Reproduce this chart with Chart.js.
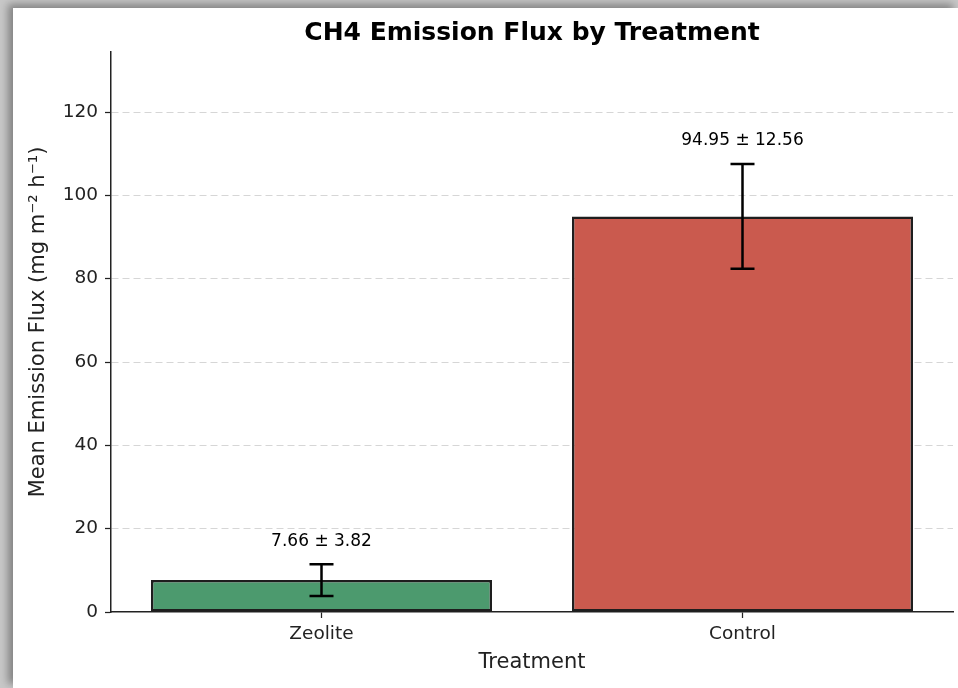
<!DOCTYPE html>
<html>
<head>
<meta charset="utf-8">
<script src="https://cdn.jsdelivr.net/npm/chart.js@4.4.0/dist/chart.umd.min.js"></script>
<style>
  html, body { margin: 0; padding: 0; }
  body { width: 958px; height: 688px; background: #c8c8c8; overflow: hidden; position: relative; }
  #card { position: absolute; left: 13px; top: 8px; width: 945px; height: 680px; background: #fff;
          box-shadow: -5px -4px 8px rgba(0,0,0,0.35); }
  canvas { display: block; }
</style>
</head>
<body>
<div id="card"><canvas id="grafico" width="945" height="680"></canvas></div>
<script>
const categorias = ["Zeolite", "Control"]
const medias = [7.66, 94.95]
const erros = [3.82, 12.56]
const cores = ["#4c9a6e", "#ca5a4e"]
const titulo = "CH4 Emission Flux by Treatment"

const FONTE = "'DejaVu Sans', sans-serif"

// barras de erro, rótulos e título
const errorBars = {
    id: "errorBars",
    afterDatasetsDraw(chart) {
        const ctx = chart.ctx
        const y = chart.scales.y
        const meta = chart.getDatasetMeta(0)
        ctx.save()
        meta.data.forEach((bar, i) => {
            const x = bar.x
            const topo = y.getPixelForValue(medias[i] + erros[i])
            const base = y.getPixelForValue(medias[i] - erros[i])
            ctx.strokeStyle = "#000"
            ctx.lineWidth = 2.5
            ctx.beginPath()
            ctx.moveTo(x, topo); ctx.lineTo(x, base)
            ctx.moveTo(x - 12, topo); ctx.lineTo(x + 12, topo)
            ctx.moveTo(x - 12, base); ctx.lineTo(x + 12, base)
            ctx.stroke()
            ctx.fillStyle = "#000"
            ctx.font = "17px " + FONTE
            ctx.textAlign = "center"
            ctx.textBaseline = "middle"
            ctx.fillText(medias[i].toFixed(2) + " ± " + erros[i].toFixed(2), x, topo - 23)
        })
        const area = chart.chartArea
        ctx.font = "bold 25px " + FONTE
        ctx.fillText(titulo, (area.left + area.right) / 2, 25)
        ctx.restore()
    }
}

new Chart(document.getElementById("grafico"), {
    type: "bar",
    data: {
        labels: categorias,
        datasets: [{
            data: medias,
            backgroundColor: cores,
            borderColor: "#1e1e1e",
            borderWidth: 2.5,
            borderSkipped: false,
            barPercentage: 0.81,
            categoryPercentage: 1.0
        }]
    },
    options: {
        responsive: false,
        animation: false,
        layout: { padding: { left: 0, right: 5, top: 44, bottom: 0 } },
        plugins: {
            legend: { display: false },
            tooltip: { enabled: false },
            title: { display: false }
        },
        scales: {
            x: {
                offset: true,
                grid: { offset: false, drawOnChartArea: false, drawTicks: true, tickLength: 6, tickColor: "#222", tickWidth: 1.25 },
                border: { display: true, color: "#222", width: 1.5 },
                ticks: { color: "#222", font: { family: FONTE, size: 18.5 }, padding: 5 },
                title: { display: true, text: "Treatment", color: "#222", font: { family: FONTE, size: 21 }, padding: { top: 6, bottom: 13 } },
                afterFit(scale) { scale.height = 76 }
            },
            y: {
                min: 0,
                max: 134.4,
                grid: {
                    color: (c) => c.tick && c.tick.value === 0 ? "rgba(0,0,0,0)" : "#d6d6d6",
                    lineWidth: 1,
                    tickLength: 6,
                    tickColor: "#222",
                    tickWidth: 1.25,
                    tickBorderDash: []
                },
                border: { display: true, color: "#222", width: 1.5, dash: [7, 4] },
                ticks: { stepSize: 20, includeBounds: false, color: "#222", font: { family: FONTE, size: 18.5 }, padding: 7 },
                title: { display: true, text: "   Mean Emission Flux (mg m⁻² h⁻¹)", color: "#222", font: { family: FONTE, size: 21 }, padding: { top: 13, bottom: 0 } },
                afterFit(scale) { scale.width = 98 }
            }
        }
    },
    plugins: [errorBars]
})
</script>
</body>
</html>
